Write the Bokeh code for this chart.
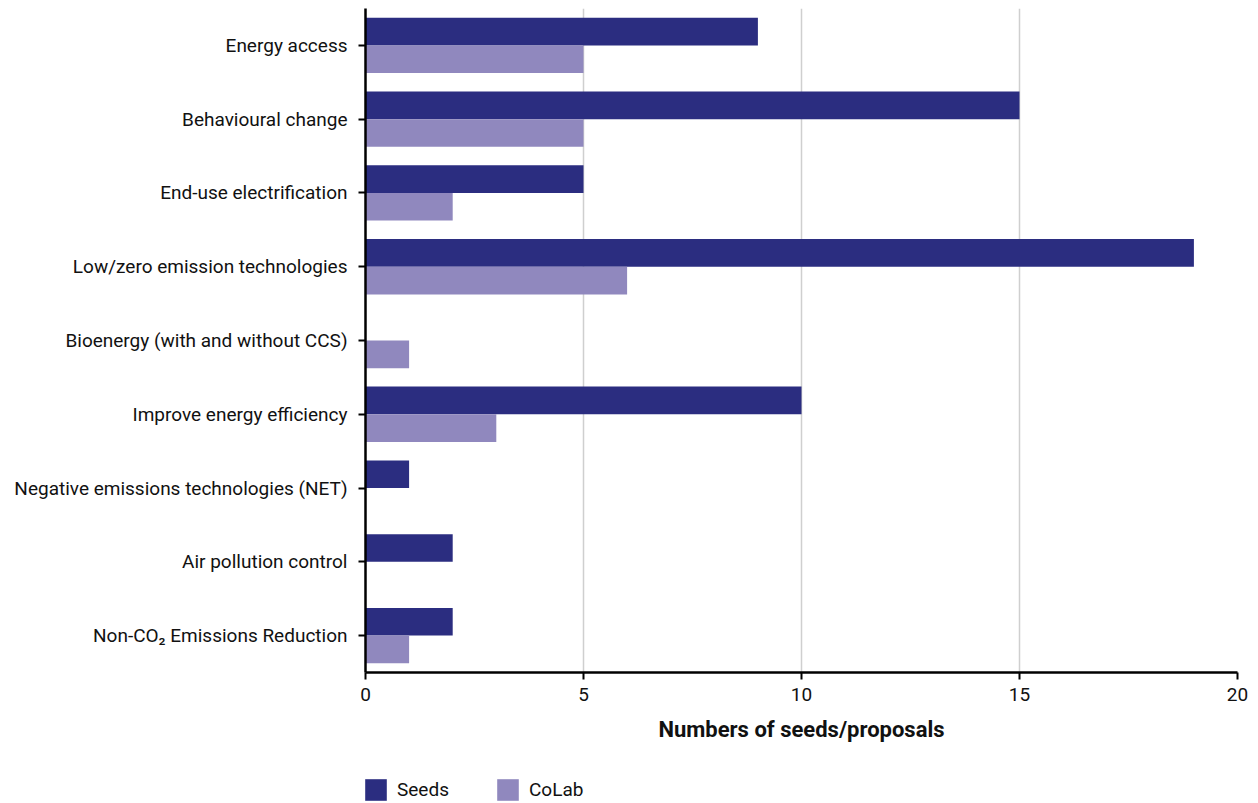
from bokeh.plotting import figure
from bokeh.layouts import column
from bokeh.models import ColumnDataSource, FactorRange, Range1d, Legend, LegendItem, FixedTicker
from bokeh.transform import dodge
from bokeh.embed import file_html
from bokeh.resources import INLINE

categories = [
    "Energy access",
    "Behavioural change",
    "End-use electrification",
    "Low/zero emission technologies",
    "Bioenergy (with and without CCS)",
    "Improve energy efficiency",
    "Negative emissions technologies (NET)",
    "Air pollution control",
    "Non-CO\u2082 Emissions Reduction",
]
seeds = [9, 15, 5, 19, 0, 10, 1, 2, 2]
colab = [5, 5, 2, 6, 1, 3, 0, 0, 1]
x_ticks = [0, 5, 10, 15, 20]
series_names = ["Seeds", "CoLab"]

SEEDS_COLOR = "#2b2d80"
COLAB_COLOR = "#9088be"
FONT = "Roboto"

src = ColumnDataSource(dict(cat=categories, seeds=seeds, colab=colab))
factors = list(reversed(categories))

p = figure(
    width=1250, height=760,
    y_range=FactorRange(factors=factors, range_padding=0),
    x_range=Range1d(0, 20),
    output_backend="svg", toolbar_location=None,
    min_border_left=365, min_border_right=13, min_border_top=8, min_border_bottom=88,
)
p.outline_line_color = None

p.hbar(y=dodge("cat", 0.1875, range=p.y_range), right="seeds", left=0, height=0.375,
       source=src, fill_color=SEEDS_COLOR, line_color=None)
p.hbar(y=dodge("cat", -0.1875, range=p.y_range), right="colab", left=0, height=0.375,
       source=src, fill_color=COLAB_COLOR, line_color=None)

p.ygrid.grid_line_color = None
p.xgrid.grid_line_color = "#cfcfcf"
p.xgrid.grid_line_width = 1.5
p.xgrid.ticker = FixedTicker(ticks=x_ticks)

xa = p.xaxis[0]
xa.ticker = FixedTicker(ticks=x_ticks)
xa.minor_tick_line_color = None
xa.major_tick_in = 0
xa.major_tick_out = 7
xa.major_tick_line_width = 2
xa.axis_line_width = 2.5
xa.axis_line_color = "black"
xa.major_label_text_font = FONT
xa.major_label_text_font_size = "19px"
xa.major_label_text_color = "#111111"
xa.major_label_standoff = 8
xa.axis_label = "Numbers of seeds/proposals"
xa.axis_label_text_font = FONT
xa.axis_label_text_font_size = "22px"
xa.axis_label_text_font_style = "bold"
xa.axis_label_text_color = "#111111"
xa.axis_label_standoff = 13

ya = p.yaxis[0]
ya.major_tick_in = 0
ya.major_tick_out = 7
ya.major_tick_line_width = 2
ya.axis_line_width = 2.5
ya.axis_line_color = "black"
ya.major_label_text_font = FONT
ya.major_label_text_font_size = "19px"
ya.major_label_text_color = "#111111"
ya.major_label_standoff = 11

# legend strip below the chart: zero-height bars carry the series styles for the legend
pl = figure(
    width=1250, height=43,
    y_range=FactorRange(factors=factors, range_padding=0),
    x_range=Range1d(0, 20),
    output_backend="svg", toolbar_location=None,
    x_axis_location=None, y_axis_location=None,
    min_border_left=0, min_border_right=0, min_border_top=0, min_border_bottom=0,
)
pl.outline_line_color = None
pl.grid.visible = False
l1 = pl.hbar(y="cat", right="seeds", left=0, height=0,
             source=src, fill_color=SEEDS_COLOR, line_color=None)
l2 = pl.hbar(y="cat", right="colab", left=0, height=0,
             source=src, fill_color=COLAB_COLOR, line_color=None)

legend = Legend(
    items=[LegendItem(label=series_names[0], renderers=[l1]),
           LegendItem(label=series_names[1], renderers=[l2])],
    orientation="horizontal",
    location=(-3, 0),
    glyph_width=27, glyph_height=27,
    label_standoff=8, spacing=45,
    label_height=22,
    padding=0, margin=0,
    label_text_font=FONT, label_text_font_size="19px", label_text_color="#111111",
    background_fill_alpha=0, border_line_color=None,
)
pl.add_layout(legend, "center")

layout = column(p, pl, spacing=0)
open("out.html", "w").write(file_html(layout, INLINE))
